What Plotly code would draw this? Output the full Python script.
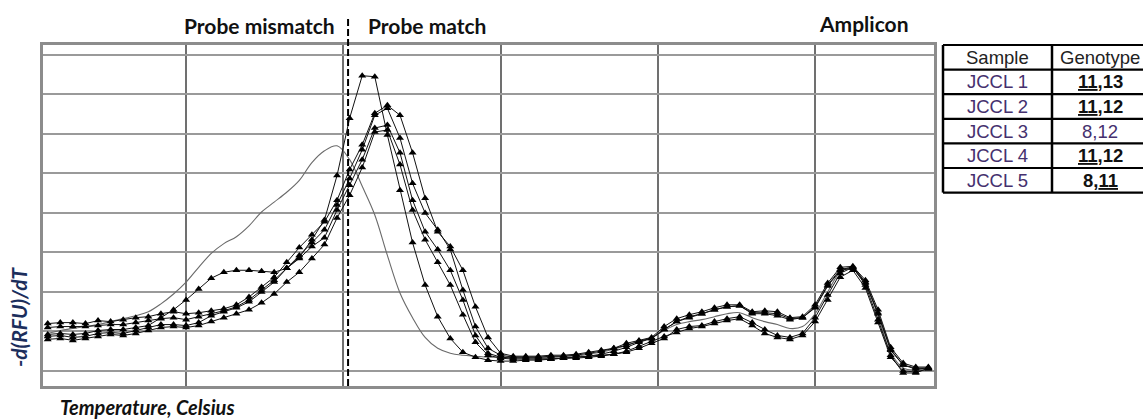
import plotly.graph_objects as go

# Temperature sampling grid (deg C)
temps = [round(50.6 + 0.4 * i, 1) for i in range(71)]

# -d(RFU)/dT values
jccl_a = [37,38,37,38,41,42,42,44,46,54, 62,72,83,94,100,102,102,101,100,104,
          115,133,153,198,256,299,298,239,183,130, 87,55,33,19,14,11,10,10,11,11,
          12,13,14,15,17,20,24,29,33,42, 50,55,58,62,65,66,59,59,58,53,
          54,65,87,103,105,90,59,22,6,2, 3]
jccl_b = [48,49,49,48,51,50,52,54,55,58, 60,58,59,61,63,67,75,85,95,110,
          125,138,151,173,204,229,261,269,259,221, 175,141,126,102,65,34,18,15,15,15,
          16,16,17,19,21,23,28,31,34,45, 53,57,60,64,67,67,60,61,60,54,
          55,67,89,105,106,92,62,24,8,4, 4]
jccl_c = [44,45,45,45,46,47,47,49,51,53, 54,52,55,58,61,65,72,82,92,104,
          117,130,143,168,195,224,259,266,236,190, 160,143,123,82,45,23,16,14,14,14,
          15,15,16,18,20,23,26,30,33,42, 50,54,58,62,65,66,58,58,56,52,
          54,64,86,102,104,89,58,21,6,3, 3]
jccl_d = [35,36,34,35,38,39,38,41,44,47, 47,46,49,56,60,64,70,80,90,104,
          114,126,135,163,188,214,246,249,221,173, 141,123,102,72,36,18,14,13,13,13,
          13,13,14,15,16,17,19,23,28,33, 42,45,46,50,53,55,49,42,36,34,
          38,54,77,99,105,87,52,16,-2,-2, 3]
jccl_e = [32,33,31,33,35,37,36,38,41,44, 45,44,46,50,54,58,62,69,78,90,
          100,114,128,155,178,206,242,244,209,163, 133,110,87,57,29,16,13,12,12,12,
          12,13,13,14,15,17,20,25,30,35, 39,43,45,48,51,53,46,38,34,32,
          36,50,72,95,102,84,49,14,0,-1, 2]
reference = [38,41,43,45,47,50,53,56,60,68, 78,90,105,119,129,136,147,161,171,181,
             193,211,223,228,214,187,158,117,79,54, 34,23,18,16,15,14,14,14,14,14,
             14,15,15,17,19,22,26,30,34,41, 47,50,52,55,58,59,54,50,47,43,
             45,58,80,100,104,88,56,19,3,1, 3]

marker_series = [jccl_a, jccl_b, jccl_c, jccl_d, jccl_e]
divider_temp = 60.15

samples = ["JCCL 1", "JCCL 2", "JCCL 3", "JCCL 4", "JCCL 5"]
genotypes = ["<b><u>11</u>,13</b>", "<b><u>11</u>,12</b>", "8,12",
             "<b><u>11</u>,12</b>", "<b>8,<u>11</u></b>"]

W, H = 1143, 419
L, R, T, B = 43, 934, 45, 386

def pxx(px):
    return (px - L) / (R - L)

def pxy(py):
    return (B - py) / (B - T)

fig = go.Figure()

fig.add_trace(go.Scatter(x=temps, y=reference, mode="lines",
                         line=dict(color="#6a6a6a", width=1.1, shape="spline"),
                         showlegend=False, hoverinfo="skip"))
for s in marker_series:
    fig.add_trace(go.Scatter(x=temps, y=s, mode="lines+markers",
                             line=dict(color="#111111", width=1),
                             marker=dict(symbol="triangle-up", size=7, color="#000000"),
                             showlegend=False))

shapes = []
shapes.append(dict(type="line", xref="x", yref="paper", x0=divider_temp, x1=divider_temp,
                   y0=0, y1=pxy(16), line=dict(color="#000000", width=2, dash="7px,3px")))

# table
tx = [943, 1052, 1148]
ty = [45 + 24.6 * k for k in range(7)]
for yy in ty:
    shapes.append(dict(type="line", xref="paper", yref="paper", x0=pxx(tx[0]), x1=pxx(tx[2]),
                       y0=pxy(yy), y1=pxy(yy), line=dict(color="#000000", width=2.2)))
for xx in tx:
    shapes.append(dict(type="line", xref="paper", yref="paper", x0=pxx(xx), x1=pxx(xx),
                       y0=pxy(ty[0]), y1=pxy(ty[-1]), line=dict(color="#000000", width=2.5)))

ann = []
title_font = dict(family="Lato", size=21, color="#111111")
ann.append(dict(text="<b>Probe mismatch</b>", x=pxx(259), y=pxy(25), xref="paper", yref="paper",
                showarrow=False, xanchor="center", yanchor="middle", font=title_font))
ann.append(dict(text="<b>Probe match</b>", x=pxx(427), y=pxy(25), xref="paper", yref="paper",
                showarrow=False, xanchor="center", yanchor="middle", font=title_font))
ann.append(dict(text="<b>Amplicon</b>", x=pxx(863), y=pxy(23), xref="paper", yref="paper",
                showarrow=False, xanchor="center", yanchor="middle", font=title_font))
ann.append(dict(text="<b><i>Temperature, Celsius</i></b>", x=pxx(58), y=pxy(407),
                xref="paper", yref="paper", showarrow=False, xanchor="left", yanchor="middle",
                font=dict(family="Lato", size=20, color="#111111")))
ann.append(dict(text="<b><i>-d(RFU)/dT</i></b>", x=pxx(18), y=pxy(317), textangle=-90,
                xref="paper", yref="paper", showarrow=False, xanchor="center", yanchor="middle",
                font=dict(family="Lato", size=21, color="#1c2e5c")))

tfont = dict(family="Liberation Sans", size=18.5, color="#222222")
cx1, cx2 = 997.5, 1100
ann.append(dict(text="Sample", x=pxx(cx1), y=pxy(ty[0] + 12.3), xref="paper", yref="paper",
                showarrow=False, xanchor="center", yanchor="middle", font=tfont))
ann.append(dict(text="Genotype", x=pxx(cx2), y=pxy(ty[0] + 12.3), xref="paper", yref="paper",
                showarrow=False, xanchor="center", yanchor="middle", font=tfont))
for k, (s, g) in enumerate(zip(samples, genotypes)):
    yc = ty[k + 1] + 12.3
    ann.append(dict(text=s, x=pxx(cx1), y=pxy(yc), xref="paper", yref="paper",
                    showarrow=False, xanchor="center", yanchor="middle",
                    font=dict(family="Liberation Sans", size=18.5, color="#45306e")))
    gcol = "#111111" if "<b>" in g else "#45306e"
    ann.append(dict(text=g, x=pxx(cx2), y=pxy(yc), xref="paper", yref="paper",
                    showarrow=False, xanchor="center", yanchor="middle",
                    font=dict(family="Liberation Sans", size=18.5, color=gcol)))

fig.update_layout(
    width=W, height=H, margin=dict(l=L, r=W - R, t=T, b=H - B, pad=0),
    paper_bgcolor="white", plot_bgcolor="white",
    shapes=shapes, annotations=ann, showlegend=False,
    xaxis=dict(range=[50.45, 78.78], tick0=55, dtick=5, showticklabels=False, ticks="",
               showgrid=True, gridcolor="#707070", gridwidth=1.5, zeroline=False,
               showline=True, mirror=True, linecolor="#8c8c8c", linewidth=2.5),
    yaxis=dict(range=[-15.2, 330.1], tick0=0, dtick=40, showticklabels=False, ticks="",
               showgrid=True, gridcolor="#9a9a9a", gridwidth=2, zeroline=False,
               showline=True, mirror=True, linecolor="#8c8c8c", linewidth=2.5),
)

fig.write_html("out.html", config={"displayModeBar": False},
               post_script="document.body.style.margin='0';document.body.style.overflow='hidden';")
